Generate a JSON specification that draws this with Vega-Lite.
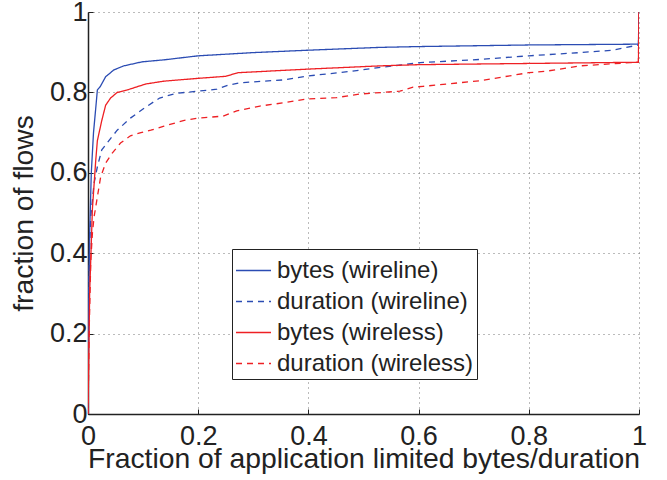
{
  "$schema": "https://vega.github.io/schema/vega-lite/v6.json",
  "width": 551,
  "height": 402,
  "autosize": "none",
  "padding": {"left": 88, "top": 12, "right": 28, "bottom": 66},
  "background": "white",
  "config": {
    "view": {"stroke": null},
    "font": "Liberation Sans",
    "axis": {"labelFont": "Liberation Sans", "titleFont": "Liberation Sans", "labelColor": "#222", "titleColor": "#222", "titleFontWeight": "normal"}
  },
  "data": {"values": [
    {"x":0,"y":0,"s":"bytes (wireline)"},{"x":0.001,"y":0.25,"s":"bytes (wireline)"},{"x":0.003,"y":0.45,"s":"bytes (wireline)"},{"x":0.006,"y":0.6,"s":"bytes (wireline)"},{"x":0.01,"y":0.7,"s":"bytes (wireline)"},{"x":0.014,"y":0.76,"s":"bytes (wireline)"},{"x":0.017,"y":0.806,"s":"bytes (wireline)"},{"x":0.022,"y":0.814,"s":"bytes (wireline)"},{"x":0.032,"y":0.839,"s":"bytes (wireline)"},{"x":0.047,"y":0.856,"s":"bytes (wireline)"},{"x":0.065,"y":0.866,"s":"bytes (wireline)"},{"x":0.098,"y":0.876,"s":"bytes (wireline)"},{"x":0.138,"y":0.881,"s":"bytes (wireline)"},{"x":0.2,"y":0.891,"s":"bytes (wireline)"},{"x":0.3,"y":0.899,"s":"bytes (wireline)"},{"x":0.4,"y":0.905,"s":"bytes (wireline)"},{"x":0.53,"y":0.912,"s":"bytes (wireline)"},{"x":0.6,"y":0.914,"s":"bytes (wireline)"},{"x":0.8,"y":0.918,"s":"bytes (wireline)"},{"x":0.999,"y":0.92,"s":"bytes (wireline)"},{"x":1,"y":1,"s":"bytes (wireline)"},
    {"x":0,"y":0,"s":"duration (wireline)"},{"x":0.0005,"y":0.2,"s":"duration (wireline)"},{"x":0.001,"y":0.3,"s":"duration (wireline)"},{"x":0.003,"y":0.42,"s":"duration (wireline)"},{"x":0.005,"y":0.49,"s":"duration (wireline)"},{"x":0.011,"y":0.574,"s":"duration (wireline)"},{"x":0.017,"y":0.615,"s":"duration (wireline)"},{"x":0.025,"y":0.657,"s":"duration (wireline)"},{"x":0.038,"y":0.68,"s":"duration (wireline)"},{"x":0.053,"y":0.706,"s":"duration (wireline)"},{"x":0.077,"y":0.736,"s":"duration (wireline)"},{"x":0.102,"y":0.761,"s":"duration (wireline)"},{"x":0.13,"y":0.786,"s":"duration (wireline)"},{"x":0.161,"y":0.798,"s":"duration (wireline)"},{"x":0.2,"y":0.803,"s":"duration (wireline)"},{"x":0.234,"y":0.808,"s":"duration (wireline)"},{"x":0.254,"y":0.818,"s":"duration (wireline)"},{"x":0.276,"y":0.824,"s":"duration (wireline)"},{"x":0.354,"y":0.831,"s":"duration (wireline)"},{"x":0.4,"y":0.841,"s":"duration (wireline)"},{"x":0.475,"y":0.852,"s":"duration (wireline)"},{"x":0.535,"y":0.863,"s":"duration (wireline)"},{"x":0.603,"y":0.874,"s":"duration (wireline)"},{"x":0.711,"y":0.882,"s":"duration (wireline)"},{"x":0.8,"y":0.891,"s":"duration (wireline)"},{"x":0.893,"y":0.899,"s":"duration (wireline)"},{"x":0.953,"y":0.905,"s":"duration (wireline)"},{"x":0.999,"y":0.918,"s":"duration (wireline)"},{"x":1,"y":1,"s":"duration (wireline)"},
    {"x":0,"y":0,"s":"bytes (wireless)"},{"x":0.001,"y":0.1,"s":"bytes (wireless)"},{"x":0.003,"y":0.3,"s":"bytes (wireless)"},{"x":0.008,"y":0.51,"s":"bytes (wireless)"},{"x":0.014,"y":0.63,"s":"bytes (wireless)"},{"x":0.017,"y":0.68,"s":"bytes (wireless)"},{"x":0.025,"y":0.73,"s":"bytes (wireless)"},{"x":0.032,"y":0.768,"s":"bytes (wireless)"},{"x":0.041,"y":0.786,"s":"bytes (wireless)"},{"x":0.053,"y":0.8,"s":"bytes (wireless)"},{"x":0.071,"y":0.806,"s":"bytes (wireless)"},{"x":0.089,"y":0.814,"s":"bytes (wireless)"},{"x":0.105,"y":0.821,"s":"bytes (wireless)"},{"x":0.138,"y":0.828,"s":"bytes (wireless)"},{"x":0.2,"y":0.835,"s":"bytes (wireless)"},{"x":0.25,"y":0.84,"s":"bytes (wireless)"},{"x":0.272,"y":0.849,"s":"bytes (wireless)"},{"x":0.4,"y":0.858,"s":"bytes (wireless)"},{"x":0.53,"y":0.866,"s":"bytes (wireless)"},{"x":0.6,"y":0.869,"s":"bytes (wireless)"},{"x":0.8,"y":0.872,"s":"bytes (wireless)"},{"x":0.999,"y":0.875,"s":"bytes (wireless)"},{"x":1,"y":1,"s":"bytes (wireless)"},
    {"x":0,"y":0,"s":"duration (wireless)"},{"x":0.002,"y":0.2,"s":"duration (wireless)"},{"x":0.005,"y":0.38,"s":"duration (wireless)"},{"x":0.008,"y":0.45,"s":"duration (wireless)"},{"x":0.011,"y":0.49,"s":"duration (wireless)"},{"x":0.017,"y":0.54,"s":"duration (wireless)"},{"x":0.023,"y":0.59,"s":"duration (wireless)"},{"x":0.032,"y":0.624,"s":"duration (wireless)"},{"x":0.044,"y":0.649,"s":"duration (wireless)"},{"x":0.059,"y":0.674,"s":"duration (wireless)"},{"x":0.077,"y":0.692,"s":"duration (wireless)"},{"x":0.096,"y":0.7,"s":"duration (wireless)"},{"x":0.114,"y":0.706,"s":"duration (wireless)"},{"x":0.138,"y":0.716,"s":"duration (wireless)"},{"x":0.173,"y":0.73,"s":"duration (wireless)"},{"x":0.2,"y":0.736,"s":"duration (wireless)"},{"x":0.245,"y":0.741,"s":"duration (wireless)"},{"x":0.27,"y":0.754,"s":"duration (wireless)"},{"x":0.312,"y":0.766,"s":"duration (wireless)"},{"x":0.354,"y":0.774,"s":"duration (wireless)"},{"x":0.4,"y":0.784,"s":"duration (wireless)"},{"x":0.451,"y":0.787,"s":"duration (wireless)"},{"x":0.494,"y":0.796,"s":"duration (wireless)"},{"x":0.566,"y":0.803,"s":"duration (wireless)"},{"x":0.59,"y":0.813,"s":"duration (wireless)"},{"x":0.608,"y":0.815,"s":"duration (wireless)"},{"x":0.711,"y":0.829,"s":"duration (wireless)"},{"x":0.8,"y":0.849,"s":"duration (wireless)"},{"x":0.833,"y":0.853,"s":"duration (wireless)"},{"x":0.893,"y":0.866,"s":"duration (wireless)"},{"x":0.984,"y":0.874,"s":"duration (wireless)"},{"x":0.999,"y":0.875,"s":"duration (wireless)"},{"x":1,"y":1,"s":"duration (wireless)"}
  ]},
  "mark": {"type": "line", "strokeWidth": 1.3, "clip": true},
  "encoding": {
    "x": {"field": "x", "type": "quantitative", "scale": {"domain": [0, 1], "nice": false},
      "axis": {"title": "Fraction of application limited bytes/duration", "values": [0, 0.2, 0.4, 0.6, 0.8, 1], "format": "~g",
        "labelFontSize": 27, "titleFontSize": 28.3, "labelPadding": 14, "titlePadding": -4,
        "domainColor": "#222", "domainWidth": 1.5, "tickColor": "#222", "tickSize": -5, "labelFlush": false,
        "grid": true, "gridDash": [1, 4], "gridColor": "#777", "gridWidth": 1}},
    "y": {"field": "y", "type": "quantitative", "scale": {"domain": [0, 1], "nice": false},
      "axis": {"title": "fraction of flows", "values": [0, 0.2, 0.4, 0.6, 0.8, 1], "format": "~g",
        "labelFontSize": 27, "titleFontSize": 28.3, "labelPadding": 6, "titlePadding": 11,
        "domainColor": "#222", "domainWidth": 1.5, "tickColor": "#222", "tickSize": -5, "labelFlush": false,
        "grid": true, "gridDash": [1, 4], "gridColor": "#777", "gridWidth": 1}},
    "color": {"field": "s", "type": "nominal",
      "scale": {"domain": ["bytes (wireline)", "duration (wireline)", "bytes (wireless)", "duration (wireless)"],
                "range": ["#2b4cb3", "#2b4cb3", "#ee2024", "#ee2024"]},
      "legend": {"title": null, "orient": "none", "legendX": 144, "legendY": 237,
        "symbolType": "stroke", "symbolSize": 1225, "symbolStrokeWidth": 1.3,
        "labelFontSize": 24, "labelFont": "Liberation Sans", "labelColor": "#222", "labelLimit": 400,
        "fillColor": "white", "strokeColor": "#222", "padding": 3, "rowPadding": -4, "labelOffset": 5}},
    "strokeDash": {"field": "s", "type": "nominal",
      "scale": {"domain": ["bytes (wireline)", "duration (wireline)", "bytes (wireless)", "duration (wireless)"],
                "range": [[1, 0], [6, 5], [1, 0], [6, 5]]},
      "legend": {"title": null, "orient": "none", "legendX": 144, "legendY": 237}}
  }
}
